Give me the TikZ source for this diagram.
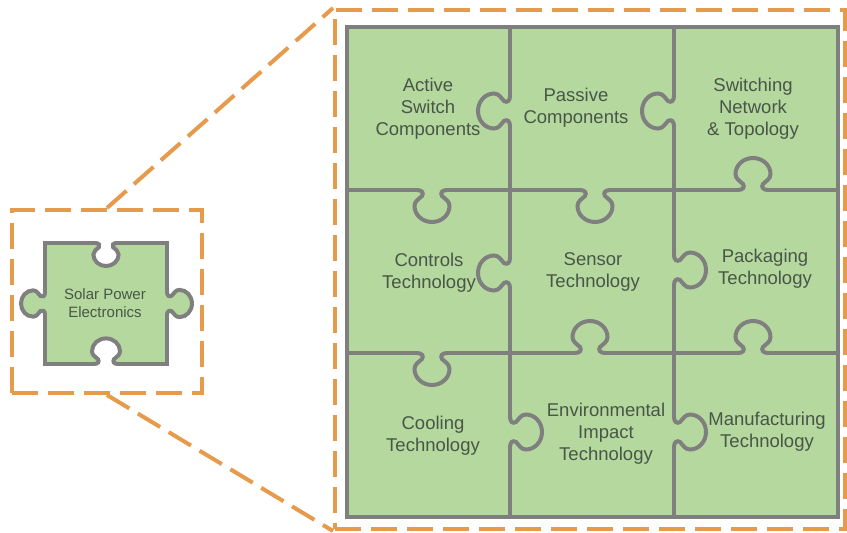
\documentclass[tikz,border=0pt]{standalone}
\usepackage{fontspec}
\setmainfont{Liberation Sans}
\definecolor{dashorange}{HTML}{E69A4C}
\definecolor{puzgreen}{HTML}{B5D89E}
\definecolor{puzline}{HTML}{7F7F7F}
\definecolor{puztext}{HTML}{485648}
\tikzset{
  zoombox/.style={draw=dashorange, line width=4pt, dash pattern=on 26pt off 10pt, inner sep=0pt, fill=none},
  zoomline/.style={draw=dashorange, line width=4pt, dash pattern=on 26pt off 10pt},
  gridline/.style={draw=puzline, line width=4pt},
  celltext/.style={text=puztext, align=center, font=\fontsize{18.5}{22}\selectfont},
  smalltext/.style={text=puztext, align=center, font=\fontsize{15}{18}\selectfont},
  knobfill/.store in=\knobfillcolor, knobfill=puzgreen,
  knob/.pic={
    \fill[\knobfillcolor] (-15,0) .. controls (-10,0) and (-8,3) .. (-10,6)
      .. controls (-13,9) and (-17.5,11) .. (-17.5,16)
      .. controls (-17.5,25) and (-9.5,32) .. (0,32)
      .. controls (9.5,32) and (17.5,25) .. (17.5,16)
      .. controls (17.5,11) and (13,9) .. (10,6)
      .. controls (8,3) and (10,0) .. (15,0) -- cycle;
    \fill[\knobfillcolor] (-14,-3) rectangle (14,3);
    \draw[gridline] (-15,0) .. controls (-10,0) and (-8,3) .. (-10,6)
      .. controls (-13,9) and (-17.5,11) .. (-17.5,16)
      .. controls (-17.5,25) and (-9.5,32) .. (0,32)
      .. controls (9.5,32) and (17.5,25) .. (17.5,16)
      .. controls (17.5,11) and (13,9) .. (10,6)
      .. controls (8,3) and (10,0) .. (15,0);
  }
}
\begin{document}
\begin{tikzpicture}[x=1pt, y=-1pt]
\useasboundingbox (0,0) rectangle (847,533);
% zoom boxes
\node[zoombox, minimum width=190pt, minimum height=183pt] (smallbox) at (107,301.5) {};
\node[zoombox, minimum width=510pt, minimum height=519pt] (bigbox) at (590,269.5) {};
\draw[zoomline] (smallbox.north) -- (bigbox.north west);
\draw[zoomline] (smallbox.south) -- (bigbox.south west);
% small puzzle piece
\node[draw=puzline, line width=4pt, fill=puzgreen, minimum width=122pt, minimum height=121pt, inner sep=0pt] (piece) at (106,303.5) {};
\pic[scale=0.72, knobfill=white] at (106,243) {knob};
\pic[scale=0.8, rotate=180, knobfill=white] at (106,364) {knob};
\pic[scale=0.75, rotate=-90] at (45,303.5) {knob};
\pic[scale=0.78, rotate=90] at (167,303.5) {knob};
\node[smalltext] (solar) at (105,303) {Solar Power\\Electronics};
% big grid
\node[draw=puzline, line width=4pt, fill=puzgreen, minimum width=491pt, minimum height=490pt, inner sep=0pt] (grid) at (592.5,272) {};
\draw[gridline] (510,27) -- (510,517);
\draw[gridline] (674,27) -- (674,517);
\draw[gridline] (347,190) -- (838,190);
\draw[gridline] (347,353) -- (838,353);
% knobs
\pic at (432,190) {knob};
\pic at (595,190) {knob};
\pic[rotate=180] at (753,190) {knob};
\pic at (432,353) {knob};
\pic[rotate=180] at (590,353) {knob};
\pic[rotate=180] at (753,353) {knob};
\pic[rotate=-90] at (510,111) {knob};
\pic[rotate=-90] at (510,273) {knob};
\pic[rotate=90] at (510,432) {knob};
\pic[rotate=-90] at (674,111) {knob};
\pic[rotate=90] at (674,270) {knob};
\pic[rotate=90] at (674,432) {knob};
% labels
\node[celltext] (act) at (428,109) {Active\\Switch\\Components};
\node[celltext] (pas) at (576,108) {Passive\\Components};
\node[celltext] (swi) at (753,109) {Switching\\Network\\\& Topology};
\node[celltext] (con) at (429,273) {Controls\\Technology};
\node[celltext] (sen) at (593,272) {Sensor\\Technology};
\node[celltext] (pac) at (765,269) {Packaging\\Technology};
\node[celltext] (coo) at (433,436) {Cooling\\Technology};
\node[celltext] (env) at (606,434) {Environmental\\Impact\\Technology};
\node[celltext] (man) at (767,432) {Manufacturing\\Technology};
\end{tikzpicture}
\end{document}
